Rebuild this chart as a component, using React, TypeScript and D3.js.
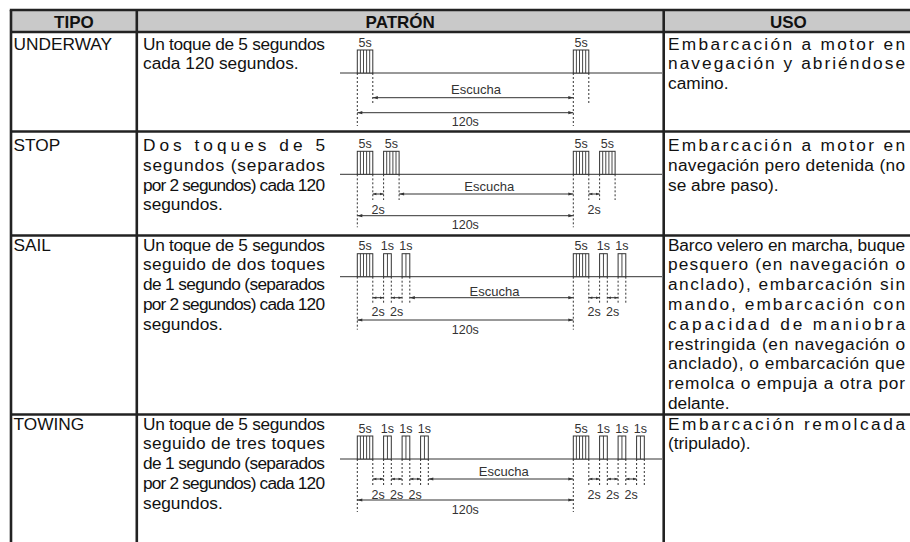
import React from "react";
import * as d3 from "d3";

// table content
const headers = ["TIPO", "PATRÓN", "USO"];
const rowTypes = ["UNDERWAY", "STOP", "SAIL", "TOWING"];
const blastSeconds = [[5], [5, 5], [5, 1, 1], [5, 1, 1, 1]];
const pauseSeconds = 2;
const periodSeconds = 120;
const listenLabel = "Escucha";

const descLines = [
  ["Un toque de 5 segundos", "cada 120 segundos."],
  ["Dos toques de 5", "segundos (separados", "por 2 segundos) cada 120", "segundos."],
  ["Un toque de 5 segundos", "seguido de dos toques", "de 1 segundo (separados", "por 2 segundos) cada 120", "segundos."],
  ["Un toque de 5 segundos", "seguido de tres toques", "de 1 segundo (separados", "por 2 segundos) cada 120", "segundos."],
];

const useLines = [
  ["Embarcación a motor en", "navegación y abriéndose", "camino."],
  ["Embarcación a motor en", "navegación pero detenida (no", "se abre paso)."],
  [
    "Barco velero en marcha, buque",
    "pesquero (en navegación o",
    "anclado), embarcación sin",
    "mando, embarcación con",
    "capacidad de maniobra",
    "restringida (en navegación o",
    "anclado), o embarcación que",
    "remolca o empuja a otra por",
    "delante.",
  ],
  ["Embarcación remolcada", "(tripulado)."],
];

// layout
const W = 910;
const H = 542;
const colX = [11, 136.8, 663.7, 913];
const headTop = 10;
const headBottom = 32;
const rowTop = [32, 131.5, 235.5, 414.5];
const textTop = [49.5, 151, 250.5, 429.5];
const axisY = [73, 174.3, 276.7, 459];
const listenOff = [24.7, 19.7, 21, 20];
const listenLabelOff = [20.5, 17, 18.8, 16.5];
const periodOff = [39.7, 41.4, 43.3, 41];
const lineGap = 19.8;
const ink = "#222";
const fine = "#333";
const font = "'Liberation Sans', Arial, sans-serif";

const x = d3.scaleLinear().domain([0, periodSeconds]).range([357.3, 573.3]);
const blastWidth = d3.scaleLinear().domain([1, 5]).range([7.7, 15.5]);
const pausePx = 10.8;

const layoutGroup = (secs: number[], t: number) => {
  let cur = x(t);
  return secs.map((s) => {
    const x0 = cur;
    const x1 = x0 + blastWidth(s);
    cur = x1 + pausePx;
    return { s, x0, x1 };
  });
};

const Arrow = ({ x1, x2, y }: { x1: number; x2: number; y: number }) => {
  const h = Math.min(5, (x2 - x1) / 3);
  const w = h > 4 ? 1.6 : 1.2;
  return (
    <g>
      <line x1={x1} x2={x2} y1={y} y2={y} stroke={fine} strokeWidth={1} />
      <path d={`M${x1},${y}L${x1 + h},${y - w}L${x1 + h},${y + w}Z`} fill={fine} />
      <path d={`M${x2},${y}L${x2 - h},${y - w}L${x2 - h},${y + w}Z`} fill={fine} />
    </g>
  );
};

const Lines = ({ lines, x0, width, y0 }: { lines: string[]; x0: number; width: number; y0: number }) => (
  <g>
    {lines.map((l, i) => (
      <text
        key={i}
        x={x0}
        y={y0 + i * lineGap}
        fontSize={17.3}
        fill="#111"
        textLength={i < lines.length - 1 ? width : undefined}
        lengthAdjust="spacing"
      >
        {l}
      </text>
    ))}
  </g>
);

const Pattern = ({ r }: { r: number }) => {
  const base = axisY[r];
  const groups = [layoutGroup(blastSeconds[r], 0), layoutGroup(blastSeconds[r], periodSeconds)];
  const listenY = base + listenOff[r];
  const periodY = base + periodOff[r];
  const shortEnd = listenY + 6;
  const longEnd = base + 53;
  const first = groups[0];
  const lastEnd = first[first.length - 1].x1;
  return (
    <g fontFamily={font} fill={fine}>
      <line x1={340} x2={662} y1={base} y2={base} stroke={fine} strokeWidth={1} />
      {groups.map((g, gi) => (
        <g key={gi}>
          {g.map((b, bi) => {
            const cells = b.s >= 5 ? 5 : 2;
            const cw = (b.x1 - b.x0) / cells;
            return (
              <g key={bi}>
                <rect x={b.x0} y={base - 23} width={b.x1 - b.x0} height={23} fill="white" stroke={fine} strokeWidth={1} />
                {d3.range(1, cells).map((k) => (
                  <line key={k} x1={b.x0 + k * cw} x2={b.x0 + k * cw} y1={base - 23} y2={base} stroke={fine} strokeWidth={0.9} />
                ))}
                <text x={(b.x0 + b.x1) / 2} y={base - 26.5} fontSize={12.5} textAnchor="middle">
                  {b.s}s
                </text>
                <line
                  x1={b.x0} x2={b.x0} y1={base} y2={bi === 0 ? longEnd : shortEnd}
                  stroke={fine} strokeWidth={1} strokeDasharray="2,2"
                />
                <line
                  x1={b.x1} x2={b.x1} y1={base} y2={shortEnd}
                  stroke={fine} strokeWidth={1} strokeDasharray="2,2"
                />
                {bi > 0 && (
                  <g>
                    <Arrow x1={g[bi - 1].x1} x2={b.x0} y={listenY} />
                    <text x={(g[bi - 1].x1 + b.x0) / 2} y={base + 39.5} fontSize={12.5} textAnchor="middle">
                      {pauseSeconds}s
                    </text>
                  </g>
                )}
              </g>
            );
          })}
        </g>
      ))}
      <Arrow x1={lastEnd} x2={x(periodSeconds)} y={listenY} />
      <text x={(lastEnd + x(periodSeconds)) / 2 + 3} y={base + listenLabelOff[r]} fontSize={13} textAnchor="middle">
        {listenLabel}
      </text>
      <Arrow x1={x(0)} x2={x(periodSeconds)} y={periodY} />
      <text x={(x(0) + x(periodSeconds)) / 2} y={periodY + 13.5} fontSize={12.5} textAnchor="middle">
        {periodSeconds}s
      </text>
    </g>
  );
};

const App: React.FC = () => {
  return (
    <svg width={W} height={H} style={{ position: "absolute", left: 0, top: 0, background: "white" }}>
      <rect x={colX[0]} y={headTop} width={colX[3] - colX[0]} height={headBottom - headTop} fill="#c9c9c9" />
      {headers.map((h, i) => (
        <text
          key={h}
          x={(colX[i] + colX[i + 1]) / 2}
          y={28}
          fontFamily={font}
          fontWeight="bold"
          fontSize={17}
          textAnchor="middle"
          fill="#111"
        >
          {h}
        </text>
      ))}
      {rowTypes.map((t, r) => (
        <g key={t} fontFamily={font}>
          <text x={13.5} y={textTop[r]} fontSize={17.3} fill="#111">
            {t}
          </text>
          <Lines lines={descLines[r]} x0={143} width={182} y0={textTop[r]} />
          <Lines lines={useLines[r]} x0={668} width={237} y0={textTop[r]} />
          <Pattern r={r} />
        </g>
      ))}
      {/* grid */}
      <line x1={colX[0] - 1.2} x2={colX[3]} y1={headTop} y2={headTop} stroke={ink} strokeWidth={2.6} />
      <line x1={colX[0]} x2={colX[3]} y1={headBottom} y2={headBottom} stroke={ink} strokeWidth={2.4} />
      {rowTop.slice(1).map((y) => (
        <line key={y} x1={colX[0]} x2={colX[3]} y1={y} y2={y} stroke={ink} strokeWidth={2.4} />
      ))}
      {colX.slice(0, 3).map((cx) => (
        <line key={cx} x1={cx} x2={cx} y1={headTop} y2={H} stroke={ink} strokeWidth={2.6} />
      ))}
    </svg>
  );
};

export default App;
